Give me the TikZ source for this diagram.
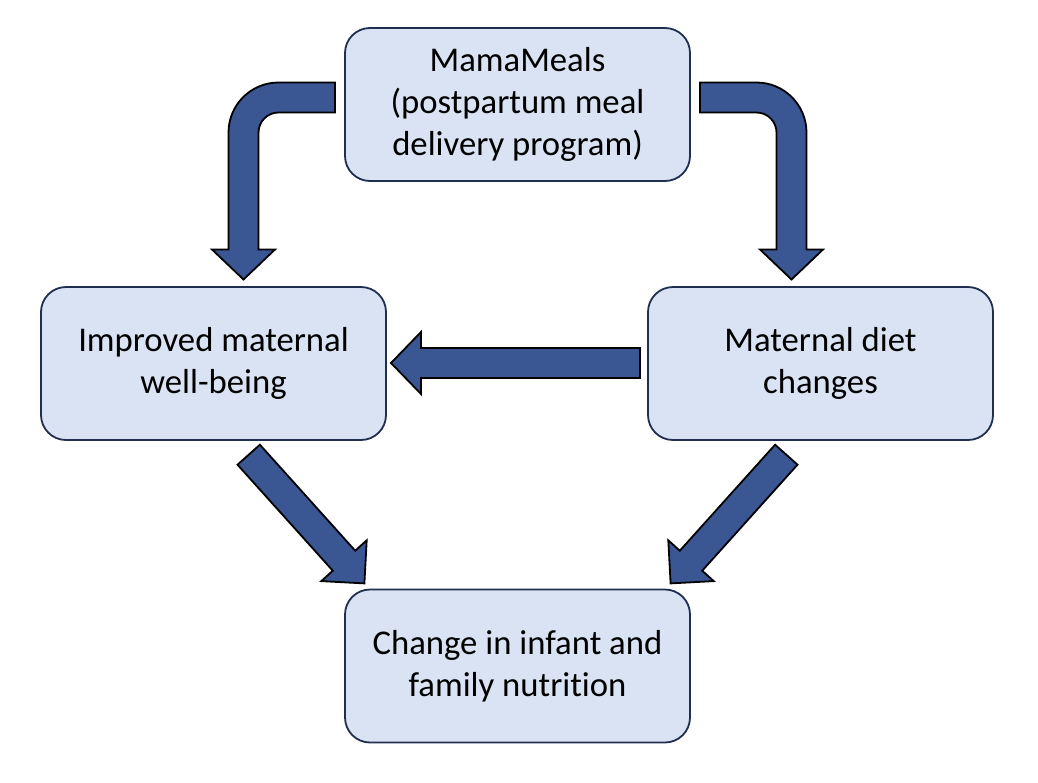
\documentclass[tikz,border=0pt]{standalone}
\usepackage{fontspec}
\setmainfont[Ligatures=NoCommon]{Carlito}
\usepackage{xcolor}
\usepackage{tikz}
\usetikzlibrary{positioning}

\definecolor{boxfill}{RGB}{218,227,243}
\definecolor{boxline}{RGB}{32,46,80}
\definecolor{arrowfill}{RGB}{58,86,147}

\begin{document}
\begin{tikzpicture}[
					x=1pt, y=-1pt,
					boxnode/.style={
						rectangle, rounded corners=25pt,
						draw=boxline, line width=1.8pt, fill=boxfill,
						minimum width=345pt, minimum height=153pt,
						inner sep=0pt, align=center,
						font=\fontsize{34.7}{42}\selectfont
					},
					blockarrow/.style={
						draw=black, line width=1.8pt, fill=arrowfill, line join=miter
					}
					]
					\useasboundingbox (0,0) rectangle (1038,782);
					
					% --- CÁC HỘP ---
					\node[boxnode] (meals) at (517.5,104.5) {MamaMeals\\(postpartum meal\\delivery program)};
					\node[boxnode] (wellbeing) at (213.5,363.5) {Improved maternal\\well-being};
					\node[boxnode] (diet) at (820.5,363.5) {Maternal diet\\changes};
					\node[boxnode] (nutrition) at (517.5,666) {Change in infant and\\family nutrition};
					
					% --- MŨI TÊN CONG: trên -> trái, trên -> phải ---
					\draw[blockarrow] (335,82.5) -- (278.5,82.5) .. controls (250.9,82.5) and (228.5,104.9) .. (228.5,132.5)
						-- (228.5,249.5) -- (212,249.5) -- (243.5,279.5) -- (275,249.5) -- (258.5,249.5)
						-- (258.5,132.5) .. controls (258.5,121.5) and (267.5,112.5) .. (278.5,112.5) -- (335,112.5) -- cycle;
					\draw[blockarrow] (700,82.5) -- (756.5,82.5) .. controls (784.1,82.5) and (806.5,104.9) .. (806.5,132.5)
						-- (806.5,249.5) -- (823,249.5) -- (791.5,279.5) -- (760,249.5) -- (776.5,249.5)
						-- (776.5,132.5) .. controls (776.5,121.5) and (767.5,112.5) .. (756.5,112.5) -- (700,112.5) -- cycle;
					
					% --- MŨI TÊN NGANG: phải -> trái ---
					\draw[blockarrow] (640,348) -- (421,348) -- (421,332) -- (391,363) -- (421,394) -- (421,378) -- (640,378) -- cycle;
					
					% --- MŨI TÊN CHÉO: xuống hộp dưới ---
					\draw[blockarrow] (237.5,464.7) -- (332.8,570.7) -- (321.3,581.1) -- (364.4,583.4)
						-- (366.7,540.3) -- (355.2,550.7) -- (259.9,444.7) -- cycle;
					\draw[blockarrow] (797.5,464.7) -- (702.2,570.7) -- (713.7,581.1) -- (670.6,583.4)
						-- (668.3,540.3) -- (679.8,550.7) -- (775.1,444.7) -- cycle;
					
				\end{tikzpicture}
\end{document}
